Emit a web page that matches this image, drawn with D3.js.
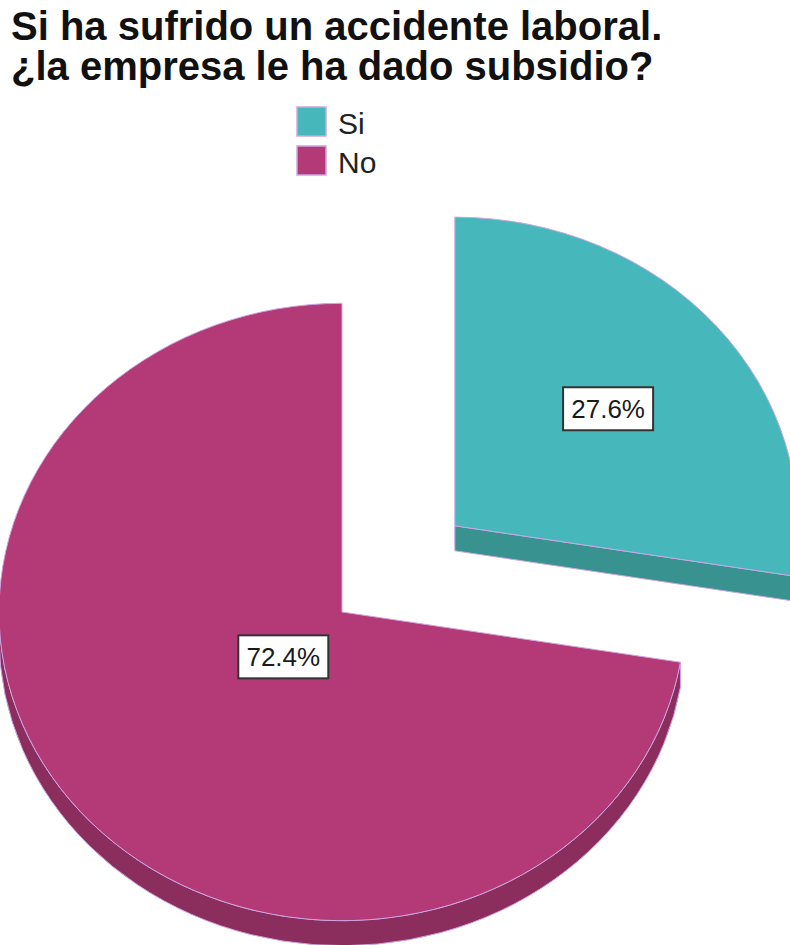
<!DOCTYPE html>
<html>
<head>
<meta charset="utf-8">
<script src="https://cdn.jsdelivr.net/npm/d3@7"></script>
<style>
  html, body { margin: 0; padding: 0; background: #ffffff; }
  svg { display: block; }
</style>
</head>
<body>
<svg id="chart" width="790" height="945"></svg>
<script>
// Survey answers
const categories = ["Si", "No"];
const percentages = [27.6, 72.4];
const percentLabels = ["27.6%", "72.4%"];
const titleLines = ["Si ha sufrido un accidente laboral.", "¿la empresa le ha dado subsidio?"];

// Colours: top face and side (depth) face of each slice
const topColors = ["#46b8bb", "#b33a76"];
const sideColors = ["#379290", "#8b2d5d"];
const edgeColor = "#cda6e4";

const W = 790, H = 945;
const cx = 342, cy = 612;      // centre of the pie's top face
const radius = 343;            // horizontal radius
const tilt = 0.9;              // vertical squash of the tilted disc
const depth = 25;              // thickness of the disc (screen px)
const explode = [148, 0];      // slice pull-out distance
const labelRadius = [201, 77]; // where each value box sits along its mid angle

const svg = d3.select("#chart");

// Title
svg.append("g")
  .selectAll("text")
  .data(titleLines)
  .join("text")
  .attr("x", 11)
  .attr("y", (d, i) => 40 + i * 40)
  .attr("font-family", "Liberation Sans, Arial, sans-serif")
  .attr("font-weight", "bold")
  .attr("font-size", 40)
  .attr("fill", "#111")
  .text(d => d);

// Legend
const legend = svg.append("g");
const legendItems = legend.selectAll("g")
  .data(categories)
  .join("g")
  .attr("transform", (d, i) => `translate(297, ${107 + i * 39})`);
legendItems.append("rect")
  .attr("width", 29).attr("height", 29)
  .attr("fill", (d, i) => topColors[i])
  .attr("stroke", edgeColor).attr("stroke-width", 1.5);
legendItems.append("text")
  .attr("x", 41).attr("y", 27)
  .attr("font-family", "Liberation Sans, Arial, sans-serif")
  .attr("font-size", 30)
  .attr("fill", "#222")
  .text(d => d);

// Pie layout: first slice starts at 12 o'clock, clockwise, no sorting
const pie = d3.pie().sort(null).value(d => d.value);
const arcs = pie(categories.map((c, i) => ({ name: c, value: percentages[i], i })));

const arcTop = d3.arc().innerRadius(0).outerRadius(radius);

// Offset of each slice's apex in screen space
function sliceOrigin(a) {
  const i = a.data.i;
  const mid = (a.startAngle + a.endAngle) / 2;
  return [cx + explode[i] * Math.sin(mid), cy - explode[i] * Math.cos(mid) * tilt];
}

// Drawing happens in an unsquashed frame; the group scales y by `tilt`
const dz = depth / tilt;
const toPath = t => t - Math.PI / 2; // pie angle -> d3.path angle

function rimPath(a0, a1) {
  // visible outer wall: only the part on the near (lower) half of the disc
  const s = Math.max(a0, Math.PI / 2), e = Math.min(a1, 3 * Math.PI / 2);
  if (e <= s) return null;
  const p = d3.path();
  p.moveTo(radius * Math.sin(s), -radius * Math.cos(s));
  p.arc(0, 0, radius, toPath(s), toPath(e), false);
  p.lineTo(radius * Math.sin(e), -radius * Math.cos(e) + dz);
  p.arc(0, dz, radius, toPath(e), toPath(s), true);
  p.closePath();
  return p.toString();
}

function radialPath(t) {
  const x = radius * Math.sin(t), y = -radius * Math.cos(t);
  const p = d3.path();
  p.moveTo(0, 0); p.lineTo(x, y); p.lineTo(x, y + dz); p.lineTo(0, dz); p.closePath();
  return p.toString();
}

const sliceGroups = arcs.map(a => {
  const [ox, oy] = sliceOrigin(a);
  return { a, g: null, ox, oy };
});

// Side walls first
const sides = svg.append("g");
sliceGroups.forEach(({ a, ox, oy }) => {
  const g = sides.append("g").attr("transform", `translate(${ox},${oy}) scale(1,${tilt})`);
  const rp = rimPath(a.startAngle, a.endAngle);
  if (rp) g.append("path").attr("d", rp)
    .attr("fill", sideColors[a.data.i]).attr("stroke", edgeColor)
    .attr("stroke-width", 1).attr("vector-effect", "non-scaling-stroke");
  // end edge faces the viewer when it lies on the right half
  if (Math.sin(a.endAngle) > 0.01) g.append("path").attr("d", radialPath(a.endAngle))
    .attr("fill", sideColors[a.data.i]).attr("stroke", edgeColor)
    .attr("stroke-width", 1).attr("vector-effect", "non-scaling-stroke");
  if (Math.sin(a.startAngle) < -0.01) g.append("path").attr("d", radialPath(a.startAngle))
    .attr("fill", sideColors[a.data.i]).attr("stroke", edgeColor)
    .attr("stroke-width", 1).attr("vector-effect", "non-scaling-stroke");
});

// Top faces
const tops = svg.append("g");
sliceGroups.forEach(({ a, ox, oy }) => {
  tops.append("g").attr("transform", `translate(${ox},${oy}) scale(1,${tilt})`)
    .append("path").attr("d", arcTop(a))
    .attr("fill", topColors[a.data.i]).attr("stroke", edgeColor)
    .attr("stroke-width", 1).attr("vector-effect", "non-scaling-stroke");
});

// Value boxes
const labels = svg.append("g");
sliceGroups.forEach(({ a, ox, oy }) => {
  const lr = labelRadius[a.data.i];
  const [lx, ly] = d3.arc().innerRadius(lr).outerRadius(lr).centroid(a);
  const x = ox + lx, y = oy + ly * tilt;
  const g = labels.append("g").attr("transform", `translate(${x},${y})`);
  g.append("rect")
    .attr("x", -45).attr("y", -21.5).attr("width", 90).attr("height", 43)
    .attr("fill", "#ffffff").attr("stroke", "#333").attr("stroke-width", 2);
  g.append("text")
    .attr("text-anchor", "middle").attr("y", 9.5)
    .attr("font-family", "Liberation Sans, Arial, sans-serif")
    .attr("font-size", 26).attr("fill", "#1a1a1a")
    .text(percentLabels[a.data.i]);
});
</script>
</body>
</html>
